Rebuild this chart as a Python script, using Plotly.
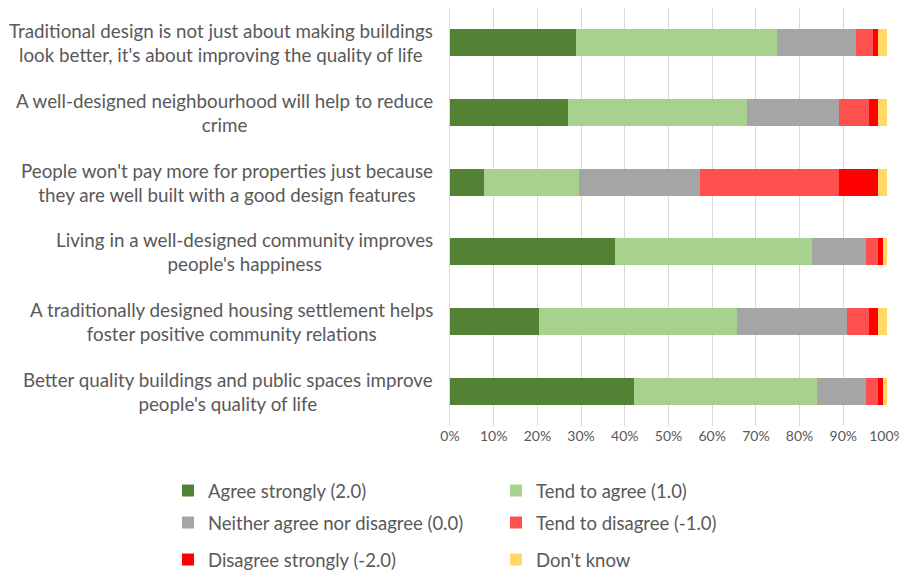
import plotly.graph_objects as go

categories = [
    "Traditional design is not just about making buildings<br>look better, it's about improving the quality of life",
    "A well-designed neighbourhood will help to reduce<br>crime",
    "People won't pay more for properties just because<br>they are well built with a good design features",
    "Living in a well-designed community improves<br>people's happiness",
    "A traditionally designed housing settlement helps<br>foster positive community relations",
    "Better quality buildings and public spaces improve<br>people's quality of life",
]
cat_ids = ["c1", "c2", "c3", "c4", "c5", "c6"]

series_names = [
    "Agree strongly (2.0)",
    "Tend to agree (1.0)",
    "Neither agree nor disagree (0.0)",
    "Tend to disagree (-1.0)",
    "Disagree strongly (-2.0)",
    "Don't know",
]
agree_strongly = [28.9, 27.1, 7.8, 37.8, 20.3, 42.0]
tend_agree = [45.9, 40.9, 21.8, 45.1, 45.3, 42.0]
neither = [18.2, 21.0, 27.7, 12.2, 25.3, 11.1]
tend_disagree = [3.8, 6.8, 31.7, 2.8, 4.9, 2.8]
disagree_strongly = [1.2, 2.2, 8.9, 1.1, 2.1, 1.1]
dont_know = [2.0, 2.0, 2.1, 1.0, 2.1, 1.0]
series_values = [agree_strongly, tend_agree, neither, tend_disagree, disagree_strongly, dont_know]
colors = ["#548235", "#A9D18E", "#A5A5A5", "#FF5050", "#FF0000", "#FFD966"]
legend_ids = ["legend", "legend", "legend2", "legend2", "legend3", "legend3"]

tick_vals = [0, 10, 20, 30, 40, 50, 60, 70, 80, 90, 100]
tick_text = ["0%", "10%", "20%", "30%", "40%", "50%", "60%", "70%", "80%", "90%", "100%"]

FONT = "Lato"
TXT = "#595959"

fig = go.Figure()
for name, vals, col, lg in zip(series_names, series_values, colors, legend_ids):
    fig.add_trace(go.Bar(
        x=vals, y=cat_ids, name=name, orientation="h",
        marker=dict(color=col, line=dict(width=0)),
        width=0.39, legend=lg,
    ))

for cid, label in zip(cat_ids, categories):
    fig.add_annotation(
        x=0, xref="paper", xanchor="right", xshift=-15,
        y=cid, yref="y", yanchor="middle",
        text=label, align="center", showarrow=False,
        font=dict(family=FONT, size=18.8, color=TXT),
    )

# the page body adds an 8px offset, so the figure is 8px smaller
W, H = 899, 565
ml, mr, mt, mb = 442, 20, 0, 147
pw = W - ml - mr
ph = H - mt - mb

def lx(px):
    return (px - ml) / pw

def ly(py):
    return (H - mb - py) / ph

legend_common = dict(
    orientation="h", xanchor="left", yanchor="middle",
    font=dict(family=FONT, size=18.5, color=TXT),
    bgcolor="rgba(0,0,0,0)", entrywidth=283, entrywidthmode="pixels",
    itemwidth=30, traceorder="normal", borderwidth=0,
)

fig.update_layout(
    width=W, height=H,
    margin=dict(l=ml, r=mr, t=mt, b=mb, autoexpand=False),
    paper_bgcolor="white", plot_bgcolor="white",
    barmode="stack", bargap=0.61,
    font=dict(family=FONT, size=15, color=TXT),
    xaxis=dict(
        range=[0, 100], tickvals=tick_vals, ticktext=tick_text,
        showgrid=True, gridcolor="#D9D9D9", gridwidth=1,
        zeroline=False, showline=False, ticks="", tickangle=0,
        tickfont=dict(family=FONT, size=14, color=TXT),
        ticklabeloverflow="allow",
        fixedrange=True, automargin=False,
    ),
    yaxis=dict(
        categoryorder="array", categoryarray=cat_ids, autorange="reversed",
        showticklabels=False, showgrid=False, ticks="",
        showline=True, linecolor="#D9D9D9", linewidth=1,
        zeroline=False, fixedrange=True, automargin=False,
    ),
    legend=dict(x=lx(160), y=ly(483), **legend_common),
    legend2=dict(x=lx(160), y=ly(515), **legend_common),
    legend3=dict(x=lx(160), y=ly(552), **legend_common),
    showlegend=True,
)

fig.write_html("out.html")
